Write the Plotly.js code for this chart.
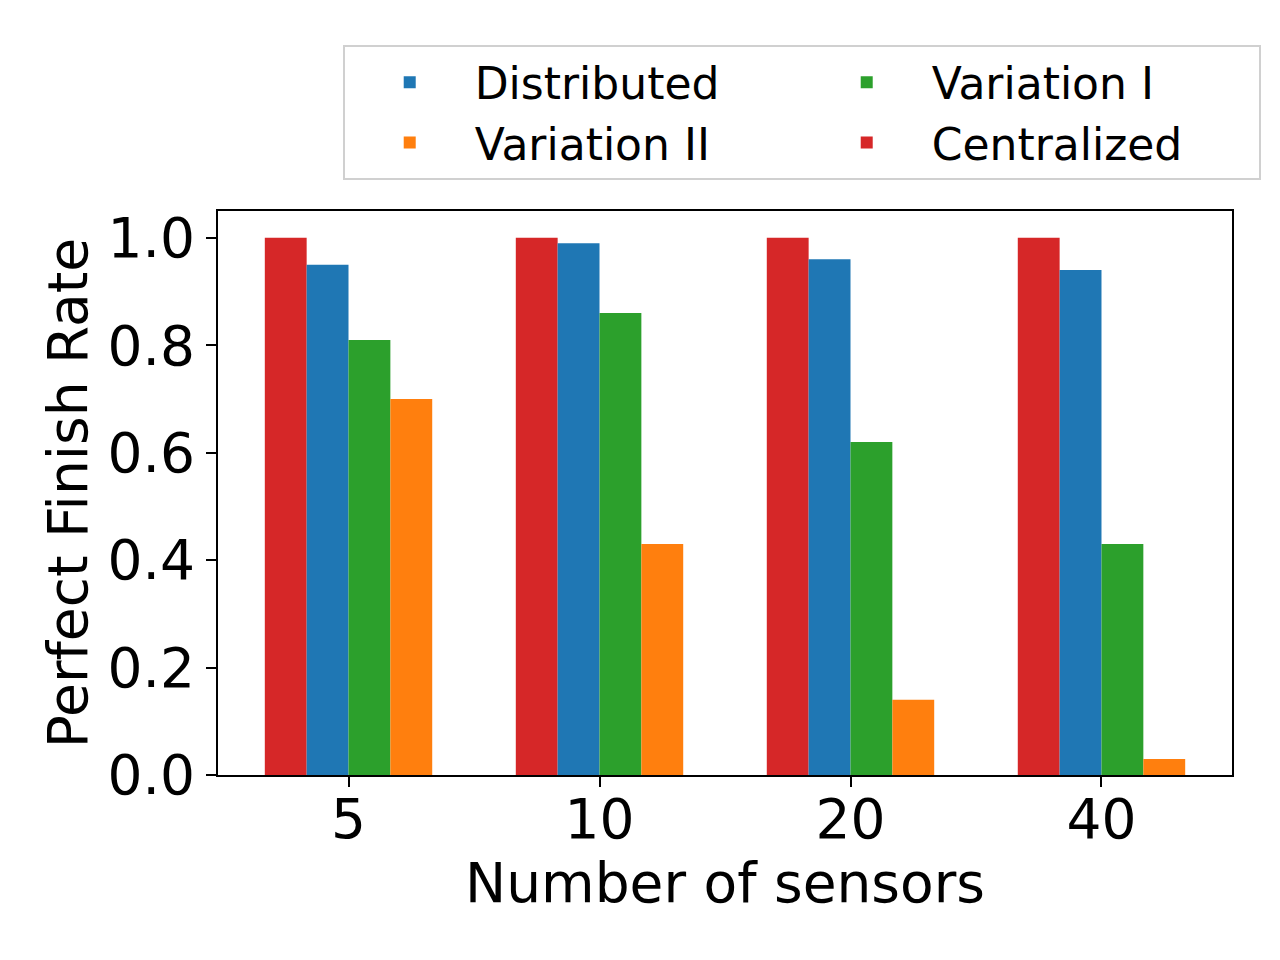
<!DOCTYPE html>
<html>
<head>
<meta charset="utf-8">
<script src="https://cdn.plot.ly/plotly-3.0.1.min.js"></script>
<style>
  html, body { margin: 0; padding: 0; background: #fff; }
  #chart { width: 1280px; height: 960px; }
</style>
</head>
<body>
<div id="chart"></div>
<script>
const sensors = ['5', '10', '20', '40'];
const centralized = [1.0, 1.0, 1.0, 1.0];
const distributed = [0.95, 0.99, 0.96, 0.94];
const variationI = [0.81, 0.86, 0.62, 0.43];
const variationII = [0.70, 0.43, 0.14, 0.03];

const font = 'DejaVu Sans, sans-serif';

// bar order inside a group: red, blue, green, orange
const traces = [
    { name: 'Centralized', y: centralized, color: '#d62728', rank: 4 },
    { name: 'Distributed', y: distributed, color: '#1f77b4', rank: 1 },
    { name: 'Variation I', y: variationI, color: '#2ca02c', rank: 2 },
    { name: 'Variation II', y: variationII, color: '#ff7f0e', rank: 3 },
].map(s => ({
    type: 'bar',
    x: sensors,
    y: s.y,
    name: s.name,
    legendrank: s.rank,
    marker: { color: s.color, line: { width: 0 } },
    hoverinfo: 'x+y+name',
}));

const layout = {
    width: 1280,
    height: 960,
    font: { family: font, size: 55, color: '#000' },
    paper_bgcolor: '#fff',
    plot_bgcolor: '#fff',
    margin: { l: 218, r: 48, t: 211, b: 185 },
    barmode: 'group',
    bargap: 0.333,
    bargroupgap: 0,
    showlegend: true,
    legend: {
        orientation: 'h',
        x: 0.123,
        xanchor: 'left',
        y: 1.294,
        yanchor: 'top',
        entrywidth: 322,
        entrywidthmode: 'pixels',
        itemwidth: 120,
        font: { family: font, size: 44, color: '#000' },
        bgcolor: '#fff',
        bordercolor: '#d0d0d0',
        borderwidth: 2,
        traceorder: 'normal',
    },
    xaxis: {
        type: 'category',
        range: [-0.52, 3.52],
        showline: true,
        linecolor: '#000',
        linewidth: 2,
        mirror: true,
        ticks: 'outside',
        ticklen: 10,
        tickwidth: 2,
        tickcolor: '#000',
        ticklabelstandoff: -15,
        showgrid: false,
        zeroline: false,
        tickfont: { family: font, size: 55 },
        title: { text: 'Number of sensors', font: { family: font, size: 55 }, standoff: 12 },
    },
    yaxis: {
        range: [0, 1.05],
        tickvals: [0, 0.2, 0.4, 0.6, 0.8, 1.0],
        ticktext: ['0.0', '0.2', '0.4', '0.6', '0.8', '1.0'],
        showline: true,
        linecolor: '#000',
        linewidth: 2,
        mirror: true,
        ticks: 'outside',
        ticklen: 10,
        tickwidth: 2,
        tickcolor: '#000',
        showgrid: false,
        zeroline: false,
        tickfont: { family: font, size: 55 },
        title: { text: 'Perfect Finish Rate', font: { family: font, size: 55 }, standoff: 2 },
    },
};

Plotly.newPlot('chart', traces, layout, { displayModeBar: false, staticPlot: true });
</script>
</body>
</html>
